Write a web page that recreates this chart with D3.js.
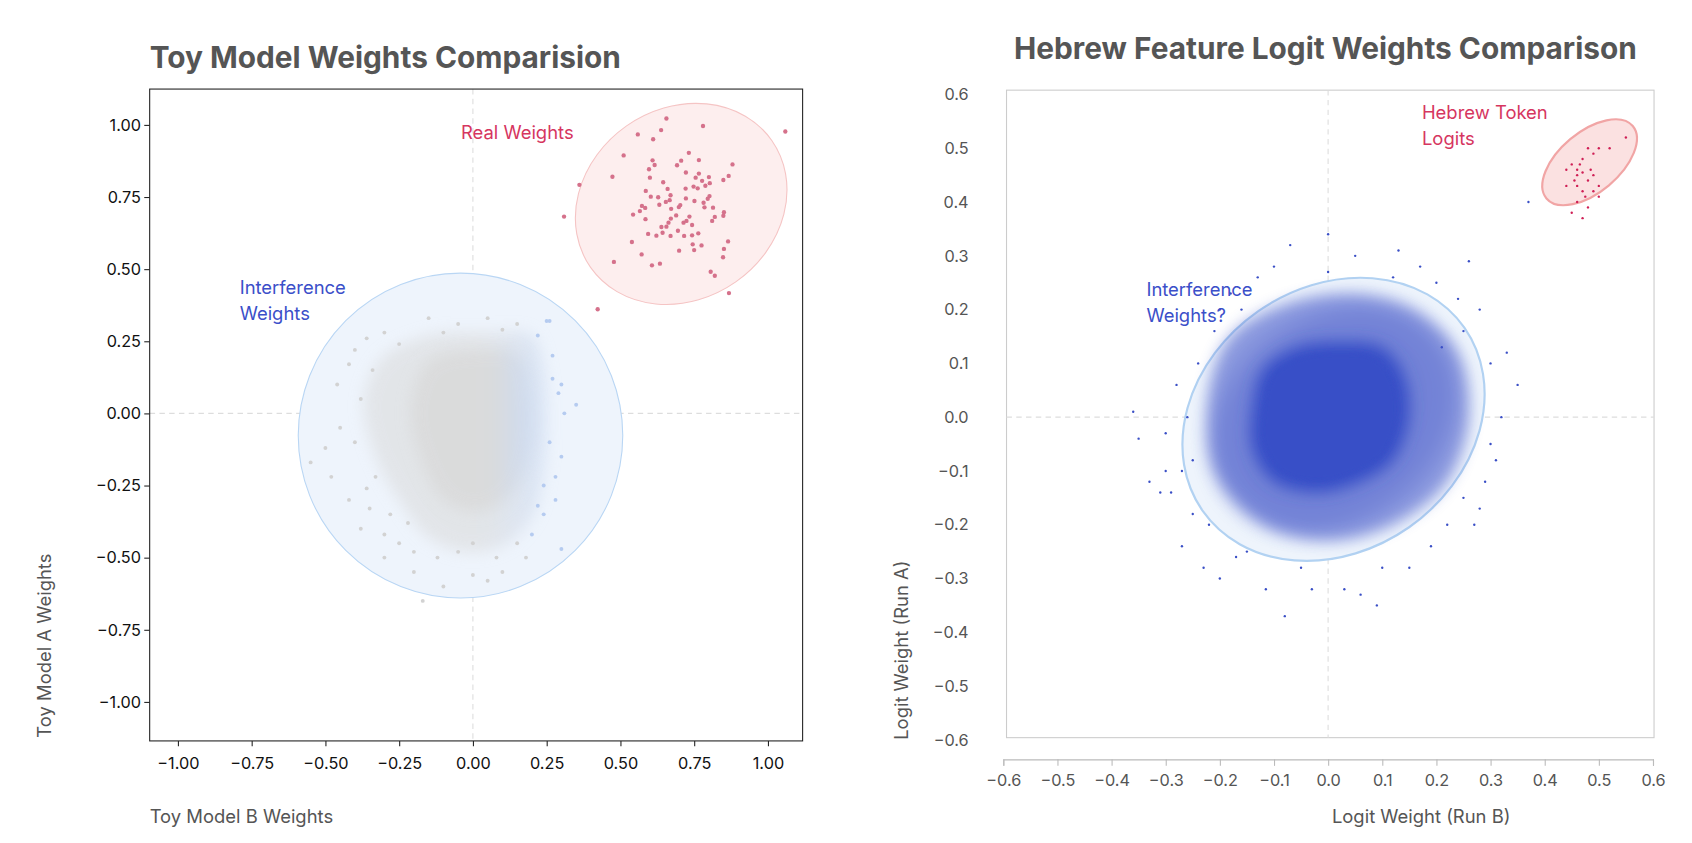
<!DOCTYPE html>
<html><head><meta charset="utf-8">
<script src="https://cdn.jsdelivr.net/npm/d3@7"></script>
<style>body{margin:0;background:#fff;font-family:Inter,"Noto Sans",sans-serif}</style>
</head><body>
<svg id="c" width="1692" height="843" viewBox="0 0 1560 777"></svg>
<script>
// ---------- data ----------
const leftTicks = [-1, -0.75, -0.5, -0.25, 0, 0.25, 0.5, 0.75, 1];
const rightTicks = [-0.6,-0.5,-0.4,-0.3,-0.2,-0.1,0,0.1,0.2,0.3,0.4,0.5,0.6];
const realWeights = [[0.656,1.022],[0.780,0.996],[0.559,0.967],[0.638,0.982],[0.611,0.950],[0.511,0.894],[0.732,0.903],[0.609,0.877],[0.706,0.876],[0.766,0.878],[0.880,0.863],[0.616,0.861],[0.597,0.846],[0.692,0.860],[0.473,0.820],[0.361,0.792],[0.600,0.817],[0.722,0.835],[0.766,0.831],[0.755,0.817],[0.800,0.819],[0.867,0.823],[0.849,0.809],[0.645,0.801],[0.777,0.806],[0.788,0.789],[0.803,0.798],[0.748,0.786],[0.762,0.780],[0.721,0.779],[0.660,0.778],[0.586,0.771],[0.670,0.756],[0.603,0.751],[0.628,0.749],[0.654,0.733],[0.667,0.739],[0.722,0.745],[0.751,0.736],[0.802,0.753],[0.796,0.744],[0.782,0.730],[0.632,0.723],[0.573,0.719],[0.584,0.712],[0.566,0.701],[0.543,0.689],[0.672,0.709],[0.703,0.722],[0.698,0.715],[0.689,0.686],[0.814,0.713],[0.785,0.714],[0.851,0.697],[0.849,0.685],[0.820,0.681],[0.811,0.667],[0.309,0.682],[0.585,0.673],[0.671,0.675],[0.734,0.682],[0.663,0.661],[0.714,0.661],[0.724,0.667],[0.743,0.653],[0.639,0.646],[0.656,0.647],[0.594,0.622],[0.622,0.616],[0.643,0.626],[0.670,0.615],[0.695,0.633],[0.716,0.615],[0.743,0.617],[0.764,0.624],[0.539,0.594],[0.745,0.586],[0.775,0.582],[0.865,0.596],[0.699,0.564],[0.750,0.566],[0.851,0.570],[0.572,0.551],[0.478,0.525],[0.607,0.513],[0.634,0.519],[0.848,0.541],[0.806,0.491],[1.059,0.977],[0.423,0.361],[0.82,0.477],[0.868,0.417]];
const toyOuterCloud = [[-0.3,0.2],[-0.15,0.27],[0.05,0.28],[0.2,0.27],[0.24,0.15],[0.25,0],[0.24,-0.2],[0.2,-0.36],[0.1,-0.46],[-0.03,-0.48],[-0.15,-0.43],[-0.25,-0.3],[-0.33,-0.15],[-0.37,0.02],[-0.35,0.12]];
const toyInnerCloud = [[-0.15,0.18],[0.02,0.22],[0.16,0.2],[0.2,0.05],[0.19,-0.15],[0.13,-0.28],[0.02,-0.34],[-0.1,-0.3],[-0.18,-0.15],[-0.21,0.02]];
const toyOutliers = [[-0.55,-0.17],[-0.5,-0.12],[-0.46,0.1],[-0.42,0.17],[-0.36,0.26],[-0.3,0.28],[-0.42,-0.3],[-0.38,-0.4],[-0.3,-0.5],[-0.2,-0.55],[-0.1,-0.6],[-0.17,-0.65],[0.05,-0.58],[0.1,-0.55],[0.3,-0.47],[0.28,-0.3],[0.3,-0.15],[0.31,0.0],[0.35,0.03],[0.3,0.1],[0.27,0.2],[0.25,0.32],[0.26,0.32],[0.05,0.33],[-0.15,0.33],[-0.05,0.31],[0.15,0.31],[-0.45,-0.05],[-0.48,-0.22],[-0.35,-0.33],[-0.25,-0.45],[0.2,-0.42],[0.24,-0.35],[0.28,-0.22],[0.29,0.07],[-0.4,0.22],[0.0,-0.56],[-0.05,-0.48],[0.18,-0.5],[-0.3,-0.42],[-0.38,0.05],[-0.33,-0.22],[-0.28,-0.35],[-0.2,-0.48],[-0.12,-0.5],[0.08,-0.5],[0.15,-0.45],[0.24,-0.25],[0.26,-0.1],[0.27,0.12],[0.22,0.27],[0.1,0.29],[-0.1,0.28],[-0.25,0.24],[-0.34,0.15],[-0.4,-0.1],[-0.36,-0.26],[-0.22,-0.38],[0.0,-0.45],[0.22,-0.32]];
const hebrewTokens = [[0.44,0.46],[0.45,0.47],[0.46,0.45],[0.47,0.48],[0.48,0.5],[0.49,0.49],[0.5,0.5],[0.52,0.5],[0.55,0.52],[0.46,0.43],[0.47,0.42],[0.48,0.44],[0.49,0.45],[0.46,0.4],[0.45,0.38],[0.47,0.37],[0.48,0.39],[0.5,0.43],[0.46,0.46],[0.455,0.44],[0.47,0.455],[0.485,0.46],[0.44,0.43],[0.475,0.41],[0.5,0.41],[0.465,0.47],[0.49,0.42]];
const logitCore = [[-0.14,0.02],[-0.12,0.09],[-0.06,0.13],[0.02,0.14],[0.1,0.13],[0.14,0.08],[0.15,0],[0.12,-0.08],[0.06,-0.12],[-0.02,-0.14],[-0.1,-0.12],[-0.14,-0.06]];
const logitHalo = [[-0.22,0.05],[-0.18,0.15],[-0.08,0.21],[0.05,0.23],[0.16,0.2],[0.24,0.12],[0.26,0],[0.22,-0.12],[0.12,-0.2],[0,-0.23],[-0.12,-0.2],[-0.21,-0.1]];
const logitOutliers = [[-0.36,0.01],[-0.35,-0.04],[-0.3,-0.1],[-0.31,-0.14],[-0.25,-0.08],[0,0.34],[-0.07,0.32],[0.26,0.29],[0.35,0.06],[0.28,-0.17],[0.27,-0.2],[-0.08,-0.37],[0.09,-0.35],[-0.115,-0.32],[-0.17,-0.26],[-0.27,-0.24],[-0.23,-0.28],[0.25,0.16],[0.21,0.13],[0.31,-0.08],[0.03,-0.32],[0.17,0.28],[0.13,0.31],[-0.13,0.26],[-0.21,0.16],[-0.28,0.06],[-0.3,-0.03],[-0.29,-0.14],[-0.25,-0.18],[0.19,-0.24],[0.15,-0.28],[-0.03,-0.32],[0.37,0.4],[-0.2,0.2],[-0.1,0.28],[0.05,0.3],[0.2,0.25],[0.28,0.2],[0.3,0.1],[0.32,0.0],[0.3,-0.05],[0.25,-0.15],[0.22,-0.2],[0.1,-0.28],[-0.05,-0.28],[-0.15,-0.25],[-0.22,-0.2],[-0.27,-0.1],[-0.26,0.0],[-0.24,0.1],[-0.16,0.2],[0.0,0.27],[0.12,0.26],[0.24,0.22],[-0.18,0.23],[0.33,0.12],[0.29,-0.12],[0.06,-0.33],[-0.2,-0.3],[-0.33,-0.12]];

// ---------- drawing ----------
const svg = d3.select('#c');
const defs = svg.append('defs');
[['blur',7],['blur2',3],['blur3',10]].forEach(([id,s])=>defs.append('filter').attr('id',id).attr('x','-30%').attr('y','-30%').attr('width','160%').attr('height','160%').append('feGaussianBlur').attr('stdDeviation',s));
const g1 = defs.append('linearGradient').attr('id','toyGrad').attr('x1','0').attr('x2','1');
g1.append('stop').attr('offset','0').attr('stop-color','#d9d9d9');
g1.append('stop').attr('offset','0.65').attr('stop-color','#d9d9d9');
g1.append('stop').attr('offset','1').attr('stop-color','#cad9f1');

// ===== Left chart =====
const lx = d3.scaleLinear().domain([0,1]).range([436,708]);
const ly = d3.scaleLinear().domain([0,1]).range([381,115]);
const L = {x0:138,x1:740,y0:82,y1:683};
const left = svg.append('g');
left.append('text').attr('x',138).attr('y',63).attr('font-size',27.5).attr('font-weight',700).attr('fill','#555').text('Toy Model Weights Comparision');
left.append('line').attr('x1',L.x0).attr('x2',L.x1).attr('y1',ly(0)).attr('y2',ly(0)).attr('stroke','#ddd').attr('stroke-dasharray','5,4');
left.append('line').attr('y1',L.y0).attr('y2',L.y1).attr('x1',lx(0)).attr('x2',lx(0)).attr('stroke','#ddd').attr('stroke-dasharray','5,4');
left.append('ellipse').attr('cx',lx(-0.042)).attr('cy',ly(-0.077)).attr('rx',lx(0.55)-lx(0)).attr('ry',ly(0)-ly(0.563))
  .attr('fill','#eef4fc').attr('stroke','#b9d6f4');
left.append('ellipse').attr('transform',`translate(${lx(0.706)},${ly(0.726)}) rotate(-35)`).attr('rx',lx(0.375)-lx(0)).attr('ry',ly(0)-ly(0.33))
  .attr('fill','#fdeeee').attr('stroke','#f5c4c4');
const line = d3.line().x(d=>lx(d[0])).y(d=>ly(d[1])).curve(d3.curveCatmullRomClosed);
left.append('path').attr('d',line(toyOuterCloud)).attr('fill','url(#toyGrad)').attr('opacity',0.55).attr('filter','url(#blur)');
left.append('path').attr('d',line(toyInnerCloud)).attr('fill','url(#toyGrad)').attr('opacity',0.8).attr('filter','url(#blur)');
left.selectAll('.to').data(toyOutliers).join('circle').attr('cx',d=>lx(d[0])).attr('cy',d=>ly(d[1])).attr('r',1.8)
  .attr('fill',d=>d[0]>0.18?'#b5cbf0':'#d2d2d2');
left.selectAll('.rw').data(realWeights).join('circle').attr('cx',d=>lx(d[0])).attr('cy',d=>ly(d[1])).attr('r',2)
  .attr('fill','#d5718b');
left.append('text').attr('x',425).attr('y',128).attr('font-size',17).attr('fill','#d6365f').text('Real Weights');
const iw = left.append('text').attr('x',221).attr('y',271).attr('font-size',17).attr('fill','#3b4fc9');
iw.append('tspan').attr('x',221).text('Interference');
iw.append('tspan').attr('x',221).attr('dy',24).text('Weights');
left.append('rect').attr('x',L.x0).attr('y',L.y0).attr('width',L.x1-L.x0).attr('height',L.y1-L.y0).attr('fill','none').attr('stroke','#222');
const fmt = d3.format('.2f');
const lxa = left.append('g').attr('transform',`translate(0,${L.y1})`).call(d3.axisBottom(lx).tickValues(leftTicks).tickFormat(fmt).tickSize(5));
const lya = left.append('g').attr('transform',`translate(${L.x0},0)`).call(d3.axisLeft(ly).tickValues(leftTicks).tickFormat(fmt).tickSize(5));
[lxa,lya].forEach(a=>{a.select('.domain').remove();a.selectAll('text').attr('font-size',15).attr('fill','#111').attr('font-family','Inter');a.selectAll('line').attr('stroke','#222');});
lxa.selectAll('text').attr('dy','1.2em');
left.append('text').attr('x',138).attr('y',759).attr('font-size',17).attr('fill','#555').text('Toy Model B Weights');
left.append('text').attr('transform','translate(47,680) rotate(-90)').attr('font-size',17).attr('fill','#555').text('Toy Model A Weights');

// ===== Right chart =====
const rx = d3.scaleLinear().domain([-0.6,0.6]).range([925,1524]);
const ry = d3.scaleLinear().domain([-0.6,0.6]).range([682,87]);
const R = {x0:928,x1:1525,y0:83,y1:680};
const right = svg.append('g');
right.append('text').attr('x',1222).attr('y',54).attr('text-anchor','middle').attr('font-size',27.5).attr('font-weight',700).attr('fill','#555').text('Hebrew Feature Logit Weights Comparison');
right.append('rect').attr('x',R.x0).attr('y',R.y0).attr('width',R.x1-R.x0).attr('height',R.y1-R.y0).attr('fill','none').attr('stroke','#ccc');
right.append('line').attr('x1',R.x0).attr('x2',R.x1).attr('y1',ry(0)).attr('y2',ry(0)).attr('stroke','#ddd').attr('stroke-dasharray','5,4');
right.append('line').attr('y1',R.y0).attr('y2',R.y1).attr('x1',rx(0)).attr('x2',rx(0)).attr('stroke','#ddd').attr('stroke-dasharray','5,4');
right.append('ellipse').attr('transform',`translate(${rx(0.01)},${ry(-0.004)}) rotate(-35)`).attr('rx',rx(0.295)-rx(0)).attr('ry',ry(0)-ry(0.245))
  .attr('fill','#eef4fc').attr('stroke','#b2d2f2').attr('stroke-width',2);
const rl = d3.line().x(d=>rx(d[0])).y(d=>ry(d[1])).curve(d3.curveCatmullRomClosed);
right.append('ellipse').attr('transform',`translate(${rx(0.01)},${ry(-0.004)}) rotate(-35)`).attr('rx',rx(0.24)-rx(0)).attr('ry',ry(0)-ry(0.19))
  .attr('fill','#3a4fc6').attr('opacity',0.3).attr('filter','url(#blur3)');
right.append('path').attr('d',rl(logitHalo)).attr('fill','#3a4fc6').attr('opacity',0.55).attr('filter','url(#blur)');
right.append('path').attr('d',rl(logitCore)).attr('fill','#374fc7').attr('filter','url(#blur)');
right.append('path').attr('d',rl(logitCore)).attr('transform',`translate(${rx(0)},${ry(0)}) scale(0.85) translate(${-rx(0)},${-ry(0)})`).attr('fill','#374fc7').attr('filter','url(#blur2)');
right.selectAll('.lo').data(logitOutliers).join('circle').attr('cx',d=>rx(d[0])).attr('cy',d=>ry(d[1])).attr('r',1.1).attr('fill','#3a4fc6');
right.append('ellipse').attr('transform',`translate(${rx(0.483)},${ry(0.474)}) rotate(-40)`).attr('rx',rx(0.104)-rx(0)).attr('ry',ry(0)-ry(0.056))
  .attr('fill','#fbe1e1').attr('stroke','#f1a5a5').attr('stroke-width',2);
right.selectAll('.ht').data(hebrewTokens).join('circle').attr('cx',d=>rx(d[0])).attr('cy',d=>ry(d[1])).attr('r',1.1).attr('fill','#cf1f55');
const ht = right.append('text').attr('x',1311).attr('y',110).attr('font-size',17).attr('fill','#d6365f');
ht.append('tspan').attr('x',1311).text('Hebrew Token');
ht.append('tspan').attr('x',1311).attr('dy',24).text('Logits');
const iw2 = right.append('text').attr('x',1057).attr('y',273).attr('font-size',17).attr('fill','#3b4fc9');
iw2.append('tspan').attr('x',1057).text('Interference');
iw2.append('tspan').attr('x',1057).attr('dy',24).text('Weights?');
const f1 = d3.format('.1f');
const rxa = right.append('g').attr('transform','translate(0,700)').call(d3.axisBottom(rx).tickValues(rightTicks).tickFormat(f1).tickSize(6));
const rya = right.append('g').attr('transform',`translate(${R.x0-2},0)`).call(d3.axisLeft(ry).tickValues(rightTicks).tickFormat(f1).tickSize(0).tickPadding(33));
rxa.select('.domain').attr('stroke','#bbb');
rya.select('.domain').remove();
[rxa,rya].forEach(a=>{a.selectAll('text').attr('font-size',15).attr('fill','#555').attr('font-family','Inter');a.selectAll('line').attr('stroke','#bbb');});
rxa.selectAll('text').attr('dy','1.05em');
right.append('text').attr('x',1228).attr('y',759).attr('font-size',17).attr('fill','#555').text('Logit Weight (Run B)');
right.append('text').attr('transform','translate(837,682) rotate(-90)').attr('font-size',17).attr('fill','#555').text('Logit Weight (Run A)');
</script>
</body></html>
